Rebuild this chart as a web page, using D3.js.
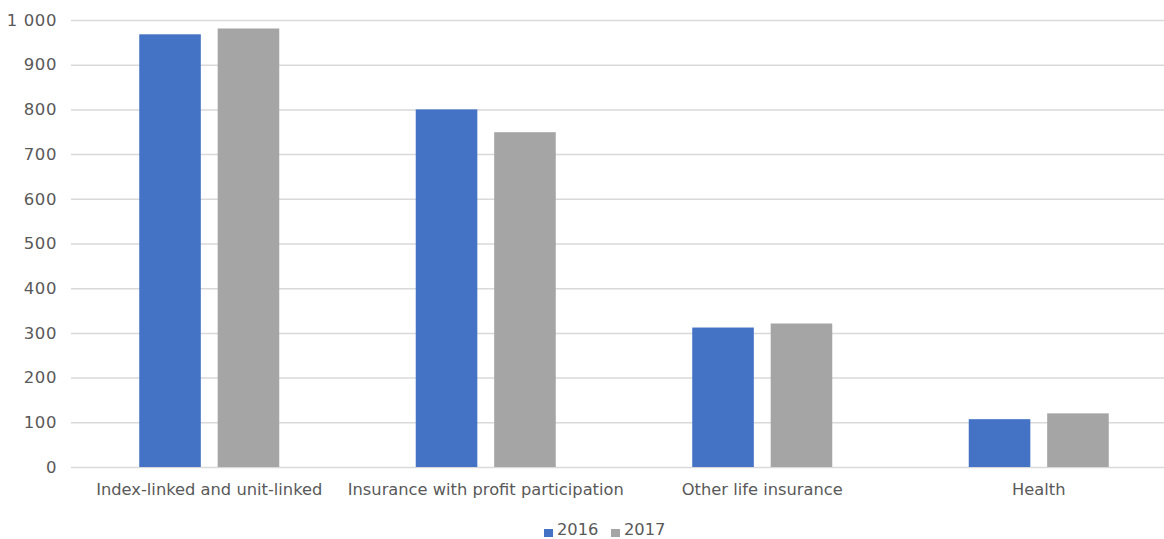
<!DOCTYPE html>
<html><head><meta charset="utf-8">
<script src="https://cdn.jsdelivr.net/npm/d3@7"></script>
<style>body{margin:0;background:#fff}svg{display:block}text{font-family:"DejaVu Sans",Verdana,sans-serif;fill:#595959}</style>
</head><body><svg id="c" width="1164" height="539"></svg>
<script>
const categories = ["Index-linked and unit-linked","Insurance with profit participation","Other life insurance","Health"];
const seriesNames = ["2016","2017"];
const values2016 = [968, 800, 312, 107];
const values2017 = [981, 749, 321, 120];
const yTicks = [0,100,200,300,400,500,600,700,800,900,1000];
const colors = ["#4472C4","#A5A5A5"];

const svg = d3.select("#c");
const L = 71, R = 1177, T = 20, B = 467;
const x = d3.scaleBand().domain(categories).range([L,R]).paddingInner(0).paddingOuter(0);
const xs = d3.scaleBand().domain(seriesNames).range([0,x.bandwidth()]).paddingInner(0.215).paddingOuter(0.87);
const y = d3.scaleLinear().domain([0,1000]).range([B,T]);
const fmt = v => d3.format(",")(v).replace(/,/g," ");

svg.append("g").selectAll("line").data(yTicks).join("line")
  .attr("x1",L).attr("x2",1164).attr("y1",d=>y(d)+0.5).attr("y2",d=>y(d)+0.5)
  .attr("stroke","#d9d9d9").attr("stroke-width",1.5);

const yAxis = d3.axisLeft(y).tickValues(yTicks).tickFormat(fmt).tickSize(0).tickPadding(0);
const ga = svg.append("g").attr("transform",`translate(57,0)`).call(yAxis);
ga.select(".domain").remove();
ga.selectAll("text").style("font-size","16.5px").style("letter-spacing","0.6px").attr("fill","#595959").style("font-family","DejaVu Sans, Verdana, sans-serif");

const series = [values2016, values2017];
series.forEach((vals,si)=>{
  svg.append("g").selectAll("rect").data(vals).join("rect")
    .attr("x",(d,i)=>x(categories[i])+xs(seriesNames[si]))
    .attr("width",xs.bandwidth())
    .attr("y",d=>y(d)).attr("height",d=>B-y(d))
    .attr("fill",colors[si]);
});

const xAxis = d3.axisBottom(x).tickSize(0).tickPadding(0);
const gx = svg.append("g").attr("transform",`translate(0,${B+22})`).call(xAxis);
gx.select(".domain").remove();
gx.selectAll("text").style("font-size","16.3px").attr("fill","#595959").style("font-family","DejaVu Sans, Verdana, sans-serif").attr("dy","0.35em").attr("y",0);

const lg = svg.append("g");
const lx = [544, 611];
seriesNames.forEach((s,i)=>{
  lg.append("rect").attr("x",lx[i]).attr("y",529).attr("width",9).attr("height",8).attr("fill",colors[i]);
  lg.append("text").attr("x",lx[i]+13).attr("y",535).style("font-size","16.3px").text(s);
});
</script></body></html>
